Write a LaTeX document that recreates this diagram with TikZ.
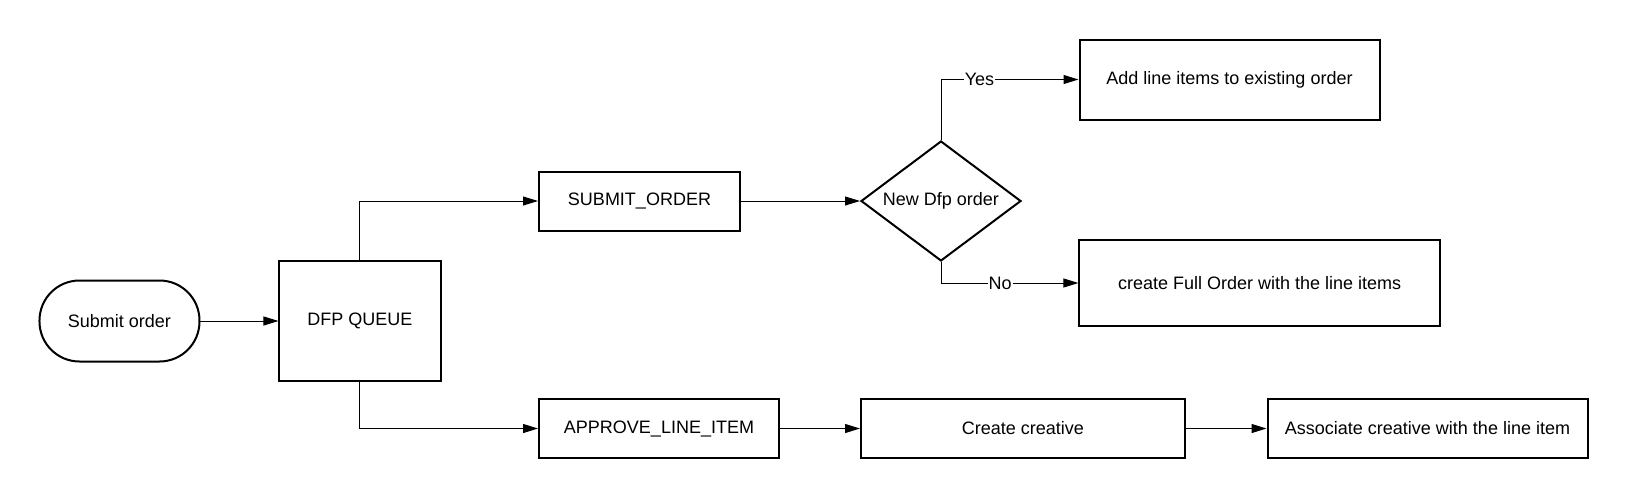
\documentclass[tikz,border=0pt]{standalone}
\usepackage{fontspec}
\setmainfont{Liberation Sans}
\usetikzlibrary{arrows.meta}
\usetikzlibrary{shapes.geometric}
\usetikzlibrary{positioning}

\begin{document}
\begin{tikzpicture}[on grid,font=\fontsize{9}{11}\selectfont,
	block/.style={draw,line width=1pt,rectangle,minimum height=29.5pt,inner sep=0pt},
	terminal/.style={draw,line width=1pt,rectangle,rounded corners=20pt,minimum width=80pt,minimum height=40.5pt},
	decision/.style={draw,line width=1pt,diamond,aspect=1.333,inner sep=0pt,minimum width=80pt,minimum height=60pt},
	line/.style={line width=0.5pt,-{Triangle[length=7.5pt,width=4.5pt]}},
	elbow/.style={to path={|- (\tikztotarget) \tikztonodes}},
	answer/.style={fill=white,inner sep=0.5pt}]
			\useasboundingbox (-180pt,-89.5pt) rectangle (634.5pt,160.5pt);
			\node[block,minimum width=80.5pt,minimum height=60pt] (queue) {DFP QUEUE};
			\node[terminal] [left=120.25pt of queue] (start) {Submit order};
			\node[block,minimum width=100.5pt] [above right=60pt and 139.75pt of queue] (submit) {SUBMIT\_ORDER};
			\node[decision] [right=150.75pt of submit] (dfporder) {New Dfp order};
			\node[block,minimum width=150pt,minimum height=40pt] [above right=60.75pt and 144.25pt of dfporder] (addline) {Add line items to existing order};
			\node[block,minimum width=180.3pt,minimum height=43pt] [below right=41pt and 159.35pt of dfporder] (fullorder) {create Full Order with the line items};
			\node[block,minimum width=120pt] [below right=53.75pt and 149.5pt of queue] (approve) {APPROVE\_LINE\_ITEM};
			\node[block,minimum width=162pt] [right=182pt of approve] (creative) {Create creative};
			\node[block,minimum width=160pt] [right=202.25pt of creative] (associate) {Associate creative with the line item};
			
			\path[line]
			(start) edge (queue)
			(queue) edge [elbow] (submit)
					edge [elbow] (approve)
			(submit) edge (dfporder)
			(dfporder) edge [elbow] node[answer,pos=0.64] {Yes} (addline)
					   edge [elbow] node[answer,pos=0.715] {No} (fullorder)
			(approve) edge (creative)
			(creative) edge (associate)
			;
		\end{tikzpicture}
\end{document}
